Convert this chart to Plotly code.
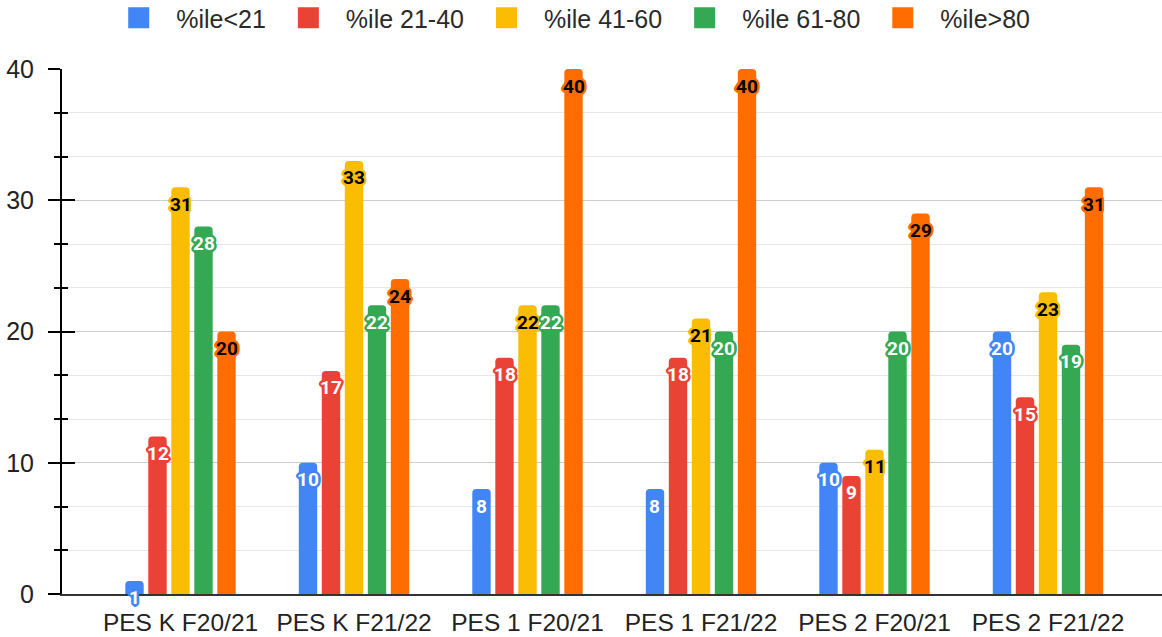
import plotly.graph_objects as go

# Categories (x axis) and one list of values per percentile band
categories = ["PES K F20/21", "PES K F21/22", "PES 1 F20/21",
              "PES 1 F21/22", "PES 2 F20/21", "PES 2 F21/22"]
series_names = ["%ile<21", "%ile 21-40", "%ile 41-60", "%ile 61-80", "%ile>80"]

pct_below_21 = [1, 10, 8, 8, 10, 20]
pct_21_40 = [12, 17, 18, 18, 9, 15]
pct_41_60 = [31, 33, 22, 21, 11, 23]
pct_61_80 = [28, 22, 22, 20, 20, 19]
pct_above_80 = [20, 24, 40, 40, 29, 31]

series_values = [pct_below_21, pct_21_40, pct_41_60, pct_61_80, pct_above_80]
series_colors = ["#4285F4", "#EA4335", "#FBBC04", "#34A853", "#FF6D01"]
label_colors = ["#ffffff", "#ffffff", "#000000", "#ffffff", "#000000"]

y_tick_vals = [0, 10, 20, 30, 40]

BARGAP = 0.337
BARGROUPGAP = 0.2
TEXT_FONT = "Arial, Liberation Sans, sans-serif"


def outline(color, r=2.6):
    """text-shadow ring that gives the value labels a halo in the bar colour."""
    dirs = [(1, 0), (0.87, 0.5), (0.5, 0.87), (0, 1), (-0.5, 0.87), (-0.87, 0.5),
            (-1, 0), (-0.87, -0.5), (-0.5, -0.87), (0, -1), (0.5, -0.87), (0.87, -0.5)]
    return ", ".join(f"{dx * r:.2f}px {dy * r:.2f}px 0.6px {color}" for dx, dy in dirs)


fig = go.Figure()
n_series = len(series_names)
slot = (1 - BARGAP) / n_series

for i, (name, vals, col) in enumerate(zip(series_names, series_values, series_colors)):
    fig.add_trace(go.Bar(
        x=categories, y=vals, name=name, showlegend=False,
        marker=dict(color=col, cornerradius=4, line=dict(width=0)),
        hoverinfo="skip",
    ))
    # legend swatch (square marker, larger than the default bar swatch)
    fig.add_trace(go.Scatter(
        x=[None], y=[None], mode="markers", name=name, yaxis="y2",
        marker=dict(symbol="square", size=16, color=col, line=dict(color=col, width=5)),
        hoverinfo="skip",
    ))
    # value label sitting just under the top of each bar
    offset = -(1 - BARGAP) / 2 + (i + 0.5) * slot
    for j, v in enumerate(vals):
        fig.add_annotation(
            x=j + offset, y=v, xref="x", yref="y", text=str(v),
            showarrow=False, yanchor="middle", yshift=-17,
            font=dict(family="Roboto", size=19, weight="bold",
                      color=label_colors[i], shadow=outline(col)),
        )

fig.update_layout(
    width=1162, height=637,
    margin=dict(l=62, r=0, t=69, b=43),
    paper_bgcolor="#ffffff", plot_bgcolor="#ffffff",
    barmode="group", bargap=BARGAP, bargroupgap=BARGROUPGAP,
    showlegend=True,
    legend=dict(
        orientation="h", xref="container", yref="container",
        x=0.489, xanchor="center", y=1 - 18 / 637, yanchor="middle",
        font=dict(family=TEXT_FONT, size=25, color="#2a2a2a"),
        itemwidth=65, traceorder="normal",
    ),
    xaxis=dict(
        type="category", range=[-0.683, 5.657],
        showline=True, linecolor="#333333", linewidth=2,
        ticks="", showgrid=False, zeroline=False,
        tickfont=dict(family=TEXT_FONT, size=24.5, color="#222222"),
        ticklabelstandoff=6,
    ),
    yaxis=dict(
        range=[0, 40], tickmode="array", tickvals=y_tick_vals,
        ticks="outside", ticklen=12, tickwidth=2, tickcolor="#000000",
        showline=True, linecolor="#000000", linewidth=2,
        showgrid=True, gridcolor="#cccccc", gridwidth=1, zeroline=False,
        tickfont=dict(family=TEXT_FONT, size=25, color="#222222"),
        ticklabelstandoff=9,
        minor=dict(dtick=10 / 3, tick0=0, ticks="outside", ticklen=6, tickwidth=2,
                   tickcolor="#000000", showgrid=True, gridcolor="#e6e6e6", gridwidth=1),
    ),
    # companion axis drawing the inner half of the crossing tick marks
    yaxis2=dict(
        overlaying="y", anchor="x", side="left", range=[0, 40],
        tickmode="array", tickvals=y_tick_vals,
        ticks="inside", ticklen=13, tickwidth=2, tickcolor="#000000",
        showticklabels=False, showgrid=False, zeroline=False, showline=False,
        minor=dict(dtick=10 / 3, tick0=0, ticks="inside", ticklen=6, tickwidth=2,
                   tickcolor="#000000", showgrid=False),
    ),
)

fig.write_html("out.html")
